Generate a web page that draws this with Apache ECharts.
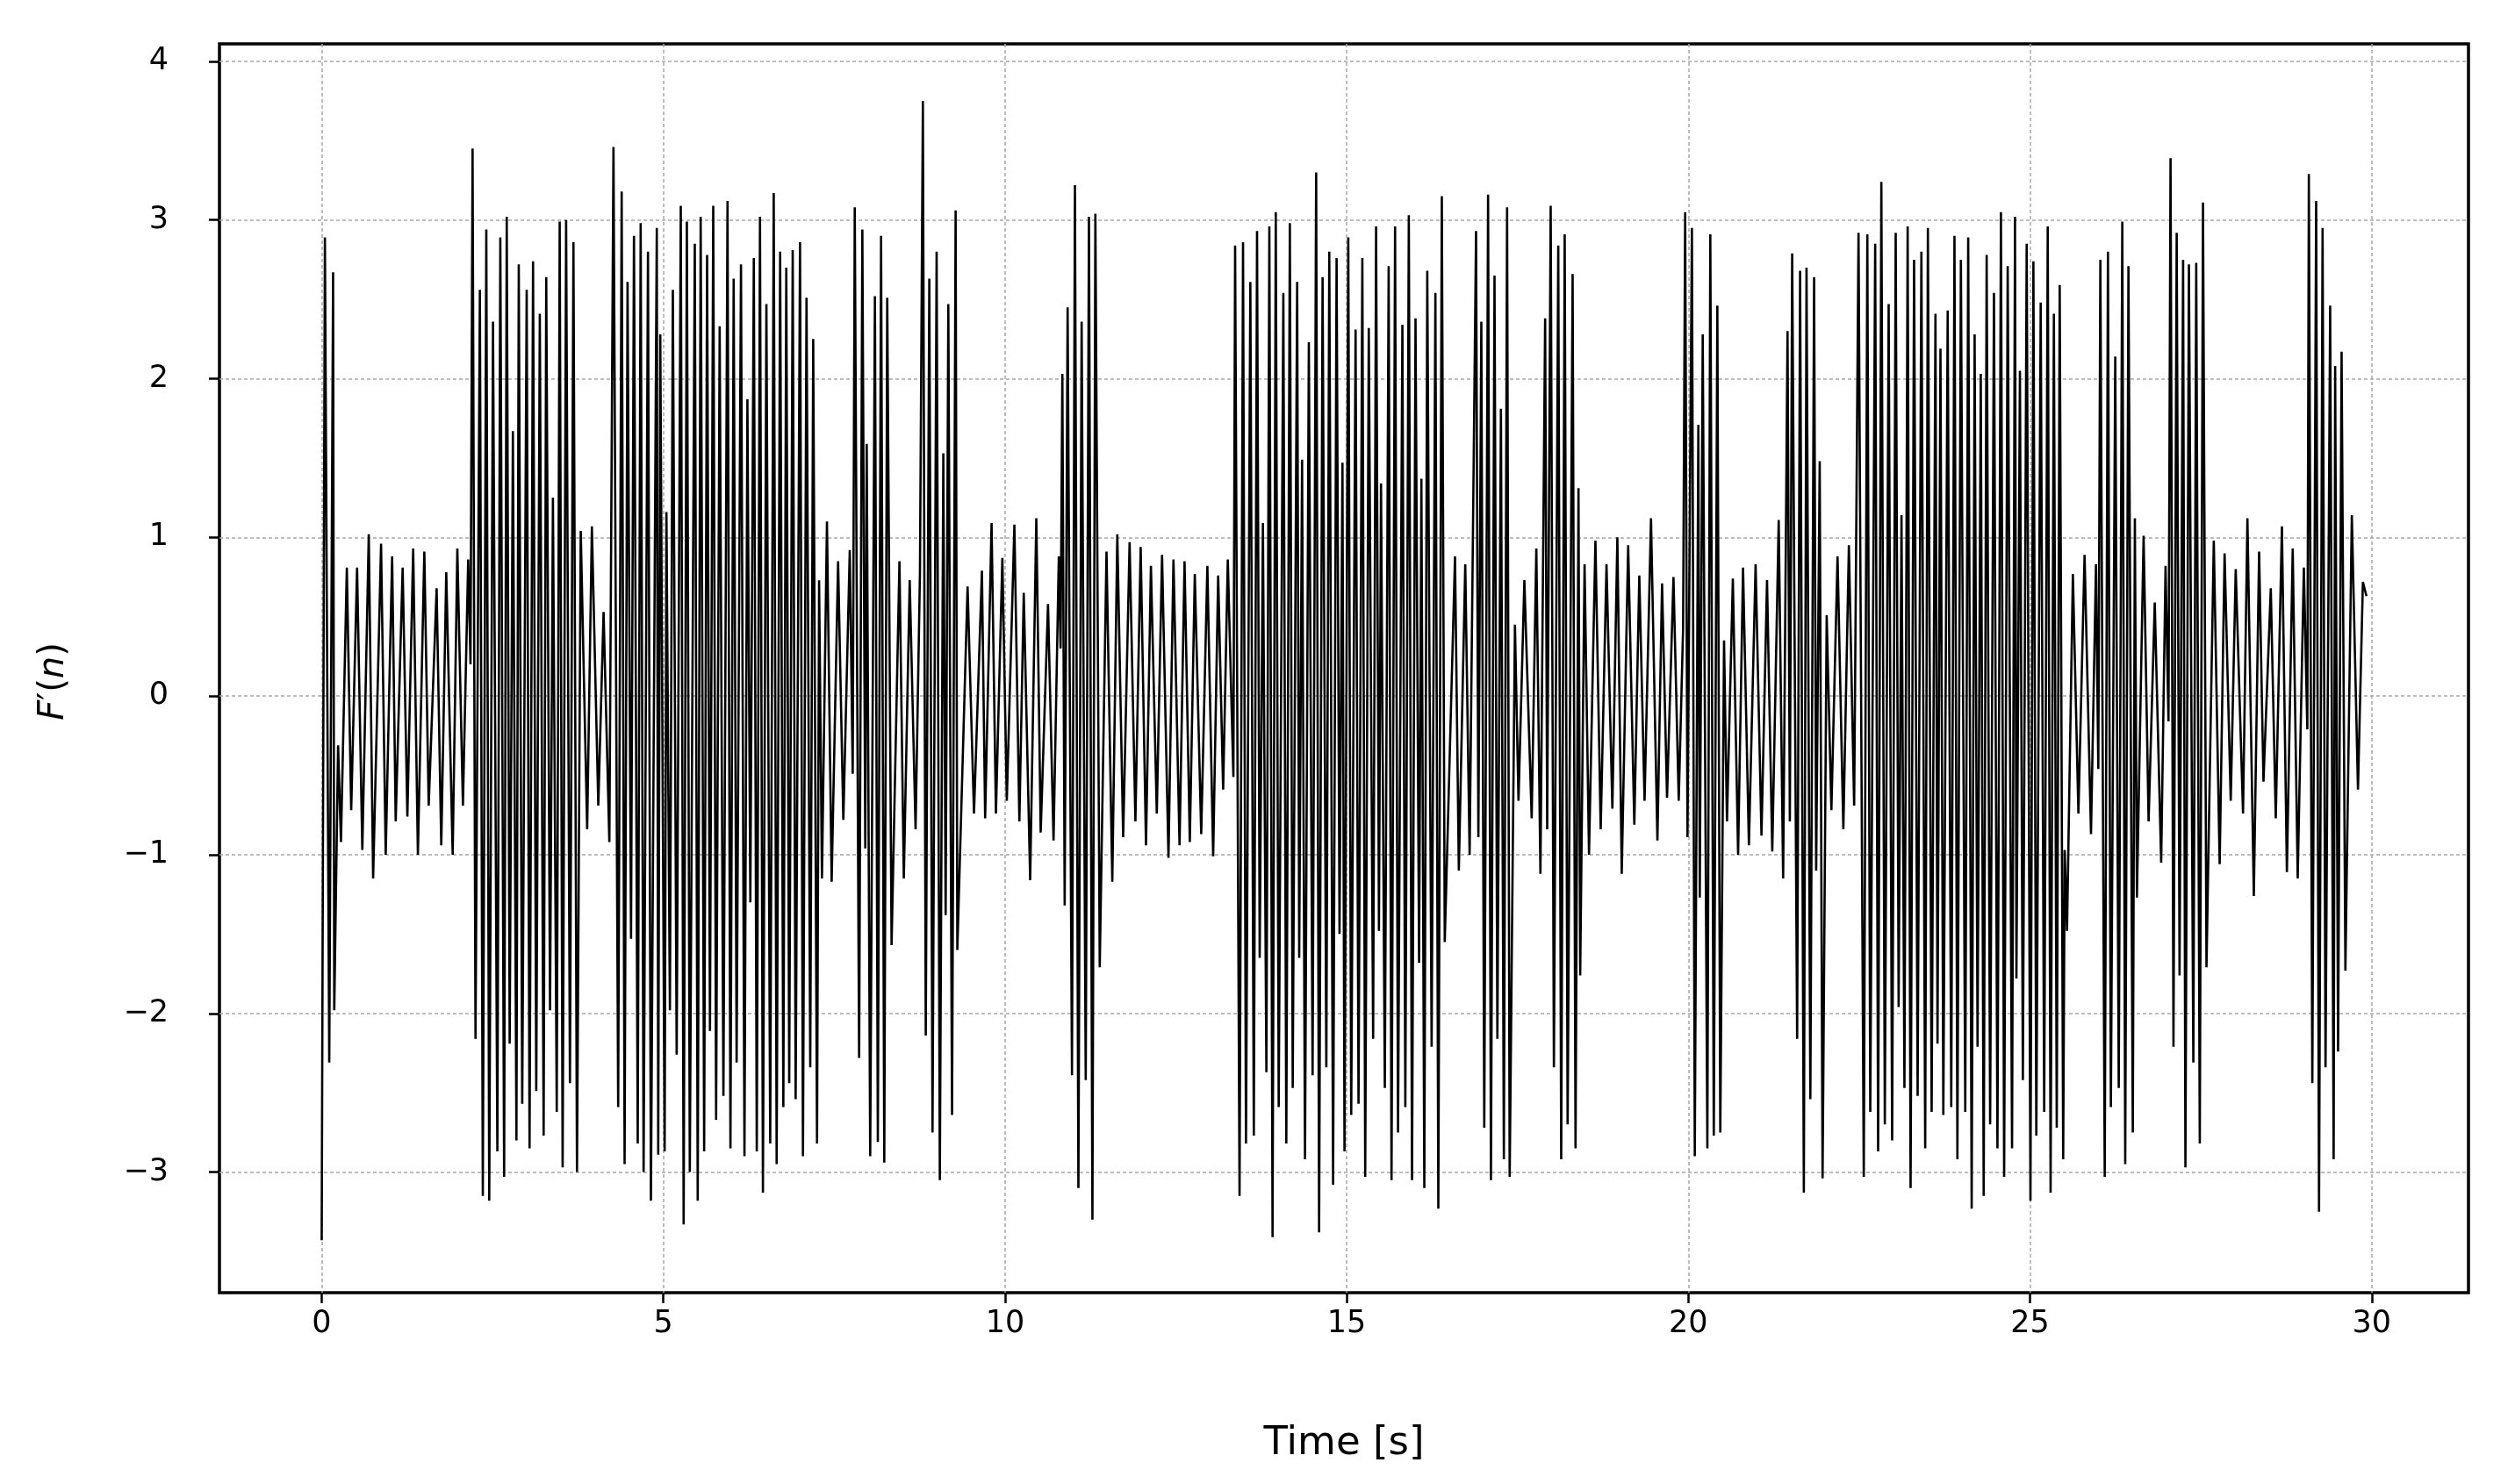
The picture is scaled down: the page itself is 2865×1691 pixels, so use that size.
<!DOCTYPE html>
<html><head><meta charset="utf-8">
<script src="https://cdn.jsdelivr.net/npm/echarts@6/dist/echarts.min.js"></script>
<style>html,body{margin:0;padding:0;background:#fff}#c{width:2865px;height:1691px}</style>
</head><body><div id="c"></div>
<script>
const xTicks = [0, 5, 10, 15, 20, 25, 30];
const yTicks = [-3, -2, -1, 0, 1, 2, 3, 4];

const timesA = [0.000,0.047,0.111,0.167,0.184,0.240,0.282,0.368,0.432,0.518,0.595,0.689,0.753,0.869,0.937,1.031,1.083,1.185,1.254,1.339,1.408,1.502,1.566,1.682,1.750,1.823,1.917,1.985,2.067,2.144,2.178,2.208,2.251,2.315,2.358,2.409,2.452,2.507,2.571,2.614,2.670,2.708,2.751,2.798,2.850,2.884,2.935,3.000,3.042,3.093,3.140,3.192,3.248,3.286,3.342,3.384,3.440,3.483,3.526,3.577,3.633,3.684,3.736,3.791,3.885,3.954,4.048,4.125,4.210,4.270,4.339,4.390,4.433,4.476,4.527,4.570,4.625,4.668,4.711,4.775,4.818,4.904,4.925,4.955];
const valuesA = [-3.43,2.89,-2.31,2.67,-1.98,-0.31,-0.92,0.81,-0.72,0.81,-0.97,1.02,-1.15,0.96,-1.00,0.88,-0.79,0.81,-0.76,0.93,-1.00,0.91,-0.69,0.68,-0.94,0.78,-1.00,0.93,-0.69,0.86,0.20,3.45,-2.16,2.56,-3.15,2.94,-3.18,2.36,-2.87,2.89,-3.03,3.02,-2.19,1.67,-2.80,2.72,-2.57,2.56,-2.85,2.74,-2.49,2.41,-2.77,2.64,-1.98,1.25,-2.62,2.99,-2.97,3.00,-2.44,2.86,-3.00,1.04,-0.84,1.07,-0.69,0.53,-0.92,3.46,-2.59,3.18,-2.95,2.61,-1.53,2.90,-2.82,2.98,-3.00,2.80,-3.18,2.95,-2.89,2.28];

const timesB = [5.019,5.045,5.096,5.139,5.195,5.255,5.297,5.344,5.387,5.460,5.503,5.546,5.597,5.640,5.682,5.730,5.772,5.824,5.879,5.939,5.982,6.029,6.072,6.136,6.187,6.230,6.273,6.324,6.367,6.414,6.457,6.508,6.564,6.615,6.658,6.709,6.756,6.799,6.842,6.893,6.936,7.000,7.043,7.095,7.150,7.193,7.249,7.279,7.321,7.394,7.463,7.557,7.634,7.728,7.771,7.801,7.865,7.912,7.955,7.976,8.027,8.096,8.139,8.186,8.233,8.276,8.340,8.455,8.519,8.605,8.691,8.755,8.798,8.840,8.892,8.939,8.999,9.046,9.097,9.131,9.170,9.225,9.277,9.302,9.452,9.546,9.662,9.709,9.803,9.867,9.961];
const valuesB = [-2.87,1.16,-1.98,2.56,-2.26,3.09,-3.33,2.99,-3.00,2.85,-3.18,3.02,-2.87,2.78,-2.11,3.09,-2.67,2.33,-2.52,3.12,-2.85,2.63,-2.31,2.72,-2.90,1.87,-1.30,2.76,-2.87,3.02,-3.13,2.47,-2.82,3.17,-2.95,2.80,-2.59,2.70,-2.44,2.81,-2.54,2.86,-2.90,2.51,-2.34,2.25,-2.82,0.73,-1.15,1.10,-1.17,0.85,-0.78,0.92,-0.49,3.08,-2.28,2.94,-0.96,1.59,-2.90,2.52,-2.81,2.90,-2.94,2.51,-1.57,0.85,-1.15,0.73,-0.84,0.78,3.75,-2.14,2.63,-2.75,2.80,-3.05,1.53,-1.38,2.47,-2.64,3.06,-1.60,0.69,-0.74,0.79,-0.77,1.09,-0.74,0.87];

const timesC = [10.026,10.137,10.210,10.274,10.368,10.458,10.522,10.629,10.710,10.787,10.813,10.839,10.873,10.916,10.980,11.023,11.074,11.121,11.181,11.228,11.279,11.322,11.386,11.485,11.570,11.643,11.729,11.823,11.908,11.985,12.063,12.135,12.221,12.298,12.392,12.465,12.554,12.627,12.704,12.777,12.871,12.961,13.046,13.119,13.192,13.260,13.342,13.367,13.432,13.483,13.526,13.590,13.641,13.688,13.727,13.774,13.825,13.868,13.915,13.962,14.005,14.073,14.116,14.168,14.210,14.275,14.305,14.347,14.390,14.446,14.501,14.553,14.596,14.647,14.702,14.745,14.801,14.852,14.895,14.938,14.968];
const valuesC = [-0.66,1.08,-0.79,0.65,-1.16,1.12,-0.86,0.58,-0.91,0.88,0.30,2.03,-1.32,2.45,-2.39,3.22,-3.10,2.36,-2.42,3.02,-3.30,3.04,-1.71,0.91,-1.17,1.02,-0.89,0.97,-0.79,0.94,-0.94,0.82,-0.74,0.89,-1.02,0.86,-0.94,0.85,-0.92,0.77,-0.87,0.82,-1.01,0.76,-0.59,0.86,-0.51,2.84,-3.15,2.86,-2.82,2.61,-2.77,2.93,-1.65,1.09,-2.37,2.96,-3.41,3.05,-2.59,2.54,-2.82,2.98,-2.47,2.61,-1.65,1.49,-2.92,2.23,-2.39,3.30,-3.38,2.64,-2.34,2.80,-3.08,2.76,-1.50,1.47,-2.87];

const timesD = [15.023,15.066,15.130,15.173,15.229,15.271,15.323,15.387,15.430,15.472,15.502,15.558,15.614,15.656,15.708,15.751,15.815,15.858,15.909,15.956,16.007,16.059,16.093,16.136,16.179,16.243,16.298,16.341,16.392,16.435,16.585,16.641,16.735,16.799,16.893,16.927,16.970,17.013,17.069,17.111,17.163,17.205,17.257,17.300,17.347,17.385,17.462,17.514,17.600,17.707,17.775,17.835,17.904,17.934,17.985,18.032,18.096,18.139,18.190,18.233,18.306,18.349,18.392,18.417,18.481,18.546,18.640,18.717,18.802,18.888,18.961,19.025,19.119,19.209,19.282,19.359,19.453,19.547,19.615,19.688,19.782,19.859,19.923];
const valuesD = [2.89,-2.64,2.31,-2.57,2.76,-3.03,2.32,-2.16,2.96,-1.48,1.34,-2.47,2.71,-3.05,2.96,-2.75,2.34,-2.59,3.03,-3.05,2.38,-1.68,1.37,-3.10,2.68,-2.21,2.54,-3.23,3.15,-1.55,0.88,-1.10,0.83,-1.00,2.93,-0.89,2.36,-2.72,3.16,-3.05,2.65,-2.16,1.81,-2.92,3.08,-3.03,0.45,-0.66,0.73,-0.77,0.93,-1.12,2.38,-0.84,3.09,-2.34,2.84,-2.92,2.91,-2.70,2.66,-2.85,1.31,-1.76,0.83,-1.00,0.98,-0.84,0.83,-0.71,1.00,-1.12,0.95,-0.81,0.76,-0.66,1.12,-0.91,0.71,-0.64,0.75,-0.66,0.43];

const timesE = [19.953,19.987,20.052,20.094,20.146,20.167,20.210,20.278,20.321,20.372,20.424,20.467,20.522,20.565,20.651,20.728,20.800,20.886,20.984,21.070,21.151,21.228,21.322,21.387,21.451,21.485,21.519,21.592,21.635,21.690,21.729,21.785,21.840,21.870,21.922,21.964,22.024,22.093,22.183,22.268,22.349,22.426,22.490,22.567,22.619,22.662,22.734,22.777,22.824,22.875,22.931,22.982,23.034,23.077,23.119,23.162,23.209,23.252,23.303,23.355,23.410,23.466,23.505,23.560,23.616,23.646,23.689,23.731,23.795,23.847,23.894,23.937,23.988,24.052,24.095,24.146,24.189,24.232,24.279,24.322,24.365,24.416,24.472,24.523,24.574,24.621,24.673,24.737,24.780,24.801,24.852,24.895,24.951];
const valuesE = [3.05,-0.89,2.95,-2.90,1.71,-1.27,2.28,-2.85,2.91,-2.77,2.46,-2.75,0.35,-0.79,0.74,-1.00,0.81,-0.94,0.83,-0.88,0.73,-0.98,1.11,-1.15,2.30,-0.79,2.79,-2.16,2.68,-3.13,2.70,-2.54,2.64,-1.10,1.48,-3.04,0.51,-0.72,0.88,-0.84,0.95,-0.69,2.92,-3.03,2.91,-2.62,2.85,-2.87,3.24,-2.70,2.47,-2.80,2.92,-1.96,1.14,-2.47,2.96,-3.10,2.75,-2.52,2.80,-2.85,2.95,-2.62,2.41,-2.19,2.19,-2.64,2.43,-2.59,2.90,-2.92,2.75,-2.62,2.89,-3.23,2.28,-2.21,2.03,-3.15,2.78,-2.70,2.54,-2.85,3.05,-3.03,2.71,-2.85,3.02,-1.78,2.05,-2.42,2.85];

const timesF = [25.006,25.049,25.092,25.156,25.207,25.259,25.301,25.349,25.391,25.434,25.485,25.507,25.541,25.627,25.708,25.798,25.892,25.965,25.999,26.029,26.093,26.140,26.183,26.247,26.298,26.350,26.393,26.440,26.504,26.534,26.564,26.662,26.735,26.825,26.919,26.983,27.026,27.056,27.099,27.146,27.188,27.240,27.274,27.325,27.390,27.432,27.484,27.531,27.582,27.689,27.775,27.847,27.937,28.010,28.117,28.181,28.275,28.352,28.416,28.523,28.596,28.686,28.759,28.844,28.917,29.007,29.058,29.080,29.131,29.187,29.229,29.281,29.324,29.392,29.443,29.465,29.508,29.559,29.615,29.709,29.799,29.871,29.923];
const valuesF = [-3.18,2.74,-2.77,2.48,-2.62,2.96,-3.13,2.41,-2.72,2.59,-2.92,-0.97,-1.48,0.77,-0.74,0.89,-0.87,0.83,-0.46,2.75,-3.03,2.80,-2.59,2.14,-2.47,2.99,-2.95,2.71,-2.75,1.12,-1.27,1.01,-0.79,0.59,-1.05,0.82,-0.16,3.39,-2.21,2.92,-1.76,2.75,-2.97,2.72,-2.31,2.73,-2.82,3.11,-1.71,0.98,-1.06,0.90,-0.66,0.80,-0.74,1.12,-1.26,0.91,-0.54,0.68,-0.77,1.07,-1.11,0.93,-1.15,0.81,-0.21,3.29,-2.44,3.12,-3.25,2.95,-2.34,2.46,-2.92,2.08,-2.24,2.17,-1.73,1.14,-0.59,0.72,0.63];

const segments = [[timesA, valuesA], [timesB, valuesB], [timesC, valuesC], [timesD, valuesD], [timesE, valuesE], [timesF, valuesF]];
const signal = [];
segments.forEach(([ts, vs]) => ts.forEach((t, i) => signal.push([t, vs[i]])));

const fmt = v => String(v).replace('-', '\u2212');
const FONT = 'DejaVu Sans';

const chart = echarts.init(document.getElementById('c'), null, {renderer: 'canvas'});
chart.setOption({
  animation: false,
  backgroundColor: '#fff',
  grid: {left: 250, right: 53, top: 50, bottom: 218, show: true, borderColor: '#000', borderWidth: 3.5, backgroundColor: 'transparent'},
  xAxis: {
    type: 'value', min: -1.496, max: 31.416,
    name: 'Time [s]', nameLocation: 'middle', nameGap: 150,
    nameTextStyle: {fontFamily: FONT, fontSize: 45, color: '#000'},
    axisLine: {show: false, onZero: false},
    axisTick: {show: true, customValues: xTicks, length: 12, lineStyle: {color: '#000', width: 2.5}},
    axisLabel: {customValues: xTicks, formatter: fmt, margin: 18, fontFamily: FONT, fontSize: 35, color: '#000'},
    splitLine: {show: true, lineStyle: {color: '#a8a8a8', width: 1.5, type: [4, 3]}}
  },
  yAxis: {
    type: 'value', min: -3.76, max: 4.11,
    name: '{i|F}\u2032({i|n})', nameLocation: 'middle', nameGap: 168, nameRotate: 90,
    nameTextStyle: {fontFamily: FONT, fontSize: 40, color: '#000', padding: [0, 30, 0, 0], rich: {i: {fontFamily: FONT, fontSize: 40, fontStyle: 'italic', color: '#000'}}},
    axisLine: {show: false, onZero: false},
    axisTick: {show: true, customValues: yTicks, length: 12, lineStyle: {color: '#000', width: 2.5}},
    axisLabel: {customValues: yTicks, formatter: fmt, margin: 58, fontFamily: FONT, fontSize: 35, color: '#000'},
    splitLine: {show: true, lineStyle: {color: '#a8a8a8', width: 1.5, type: [4, 3]}}
  },
  series: [{
    type: 'line', data: signal, showSymbol: false, symbol: 'none', silent: true,
    lineStyle: {color: '#000', width: 2.6}, emphasis: {disabled: true}
  }]
});
</script></body></html>
